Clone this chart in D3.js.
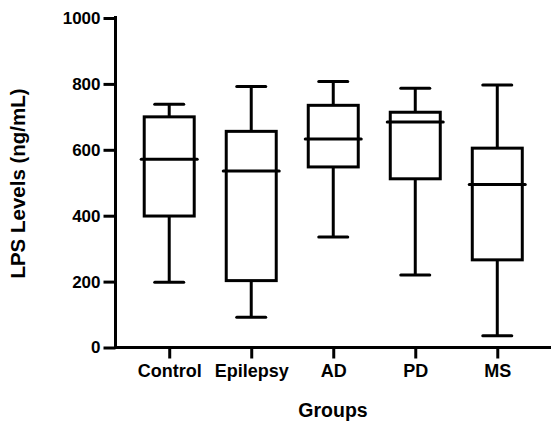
<!DOCTYPE html>
<html lang="en">

<head>
    <meta charset="utf-8">
    <script src="https://d3js.org/d3.v7.min.js"></script>
    <style>
        body { margin: 0; background: #fff; }
        text { font-family: "Liberation Sans", Arial, sans-serif; font-weight: bold; fill: #000; }
    </style>
</head>

<body>
    <script>
        // groups and five-number summaries
        const groups = ['Control', 'Epilepsy', 'AD', 'PD', 'MS'];
        const minVals = [198, 92, 335, 220, 36];
        const q1Vals = [399, 203, 548, 512, 266];
        const medianVals = [571, 536, 633, 684, 495];
        const q3Vals = [700, 656, 735, 714, 605];
        const maxVals = [738, 792, 807, 787, 797];
        const yTicks = [0, 200, 400, 600, 800, 1000];

        const w = 551, h = 423;
        const axisX = 115.5, axisY = 347.5;

        const boxes = groups.map((g, i) => ({
            group: g, min: minVals[i], q1: q1Vals[i], median: medianVals[i], q3: q3Vals[i], max: maxVals[i]
        }));

        const svg = d3.select('body').append('svg')
            .attr('width', w)
            .attr('height', h);

        const yScale = d3.scaleLinear()
            .domain([0, 1000])
            .range([axisY, 18]);

        const xScale = d3.scalePoint()
            .domain(groups)
            .range([axisX, w])
            .padding(0.655);

        const boxW = 50, capW = 29, medW = 56;

        const g = svg.selectAll('g.box')
            .data(boxes)
            .enter()
            .append('g')
            .attr('class', 'box')
            .attr('stroke', '#000')
            .attr('stroke-width', 3)
            .attr('fill', 'none');

        // whiskers
        g.append('line')
            .attr('x1', d => xScale(d.group)).attr('x2', d => xScale(d.group))
            .attr('y1', d => yScale(d.max)).attr('y2', d => yScale(d.q3));
        g.append('line')
            .attr('x1', d => xScale(d.group)).attr('x2', d => xScale(d.group))
            .attr('y1', d => yScale(d.q1)).attr('y2', d => yScale(d.min));
        // caps
        g.append('line')
            .attr('x1', d => xScale(d.group) - capW / 2).attr('x2', d => xScale(d.group) + capW / 2)
            .attr('y1', d => yScale(d.max)).attr('y2', d => yScale(d.max))
            .attr('stroke-linecap', 'round');
        g.append('line')
            .attr('x1', d => xScale(d.group) - capW / 2).attr('x2', d => xScale(d.group) + capW / 2)
            .attr('y1', d => yScale(d.min)).attr('y2', d => yScale(d.min))
            .attr('stroke-linecap', 'round');
        // box
        g.append('rect')
            .attr('x', d => xScale(d.group) - boxW / 2)
            .attr('width', boxW)
            .attr('y', d => yScale(d.q3))
            .attr('height', d => yScale(d.q1) - yScale(d.q3));
        // median
        g.append('line')
            .attr('x1', d => xScale(d.group) - medW / 2).attr('x2', d => xScale(d.group) + medW / 2)
            .attr('y1', d => yScale(d.median)).attr('y2', d => yScale(d.median))
            .attr('stroke-linecap', 'round');

        const yAxis = d3.axisLeft(yScale)
            .tickValues(yTicks)
            .tickFormat(d3.format('d'))
            .tickSize(12)
            .tickSizeOuter(0)
            .tickPadding(3);

        const xAxis = d3.axisBottom(xScale)
            .tickSize(11)
            .tickSizeOuter(0)
            .tickPadding(6);

        const gy = svg.append('g')
            .attr('transform', 'translate(' + axisX + ',0)')
            .call(yAxis);

        const gx = svg.append('g')
            .attr('transform', 'translate(0,' + axisY + ')')
            .call(xAxis);

        [gx, gy].forEach(ax => {
            ax.select('.domain').attr('stroke-width', 3).attr('stroke', '#000');
            ax.selectAll('.tick line').attr('stroke-width', 3).attr('stroke', '#000');
            ax.selectAll('.tick text')
                .attr('font-family', '"Liberation Sans", Arial, sans-serif')
                .attr('font-weight', 'bold')
                .attr('fill', '#000');
        });
        gy.select('.domain').attr('d', 'M0,' + (axisY + 1.5) + 'V16');
        gx.select('.domain').attr('d', 'M' + (axisX - 1.5) + ',0H' + w);
        gy.selectAll('.tick text').attr('font-size', 17);
        gx.selectAll('.tick text').attr('font-size', 18);

        svg.append('text')
            .attr('transform', 'translate(25,183.5) rotate(-90)')
            .attr('text-anchor', 'middle')
            .attr('font-size', 20.5)
            .text('LPS Levels (ng/mL)');

        svg.append('text')
            .attr('x', 333)
            .attr('y', 417)
            .attr('text-anchor', 'middle')
            .attr('font-size', 19.5)
            .text('Groups');
    </script>

</body>

</html>
